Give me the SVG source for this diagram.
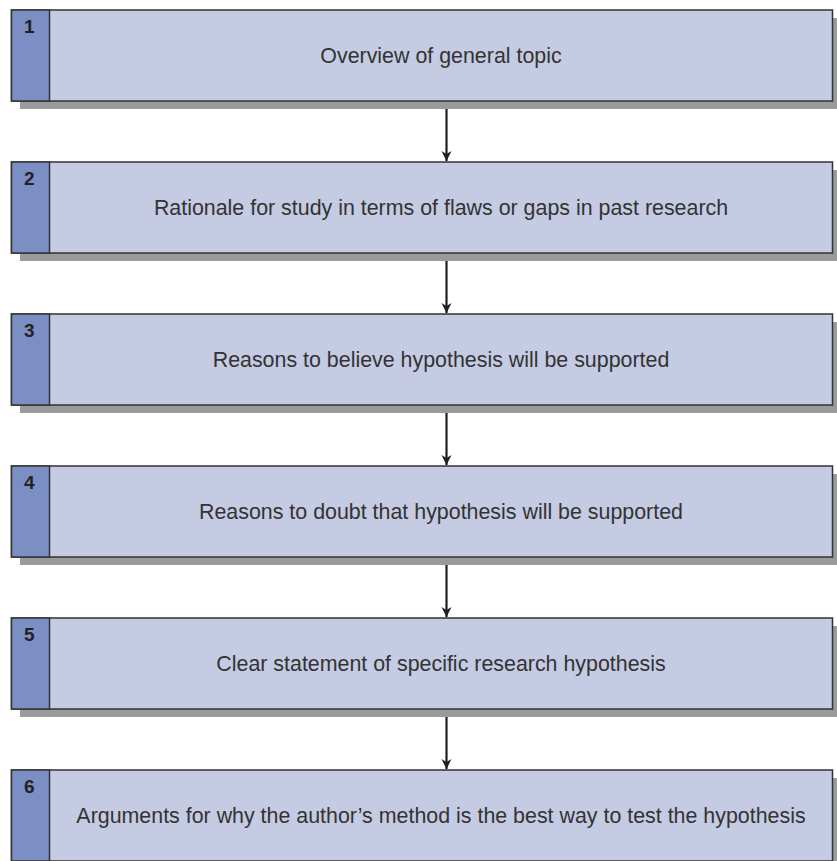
<svg xmlns="http://www.w3.org/2000/svg" width="837" height="861" viewBox="0 0 837 861">
<defs>
<style>
.shadow{fill:#999a9c}
.box{fill:#c5cbe3;stroke:#333333;stroke-width:1.5}
.tab{fill:#7b8fc4;stroke:#333333;stroke-width:1.5}
.num{font-family:"Liberation Sans",Arial,sans-serif;font-weight:bold;font-size:19px;fill:#222}
.lbl{font-family:"Liberation Sans",Arial,sans-serif;font-size:21.4px;fill:#333;text-anchor:middle}
.conn{stroke:#231f20;stroke-width:2.2;fill:none}
</style>
<marker id="ah" viewBox="0 0 10 16" refX="10" refY="8" markerWidth="14" markerHeight="16" markerUnits="userSpaceOnUse" orient="auto">
<path d="M0,3 L10,8 L0,13 L3,8 Z" fill="#231f20"/>
</marker>
</defs>
<rect width="837" height="861" fill="#ffffff"/>
<g id="connectors">
<line class="conn" x1="446.5" y1="101" x2="446.5" y2="161" marker-end="url(#ah)"/>
<line class="conn" x1="446.5" y1="253" x2="446.5" y2="313" marker-end="url(#ah)"/>
<line class="conn" x1="446.5" y1="405" x2="446.5" y2="465" marker-end="url(#ah)"/>
<line class="conn" x1="446.5" y1="557" x2="446.5" y2="617" marker-end="url(#ah)"/>
<line class="conn" x1="446.5" y1="709" x2="446.5" y2="769" marker-end="url(#ah)"/>
</g>
<g id="node1">
<rect class="shadow" x="20" y="18" width="817" height="91"/>
<rect class="box" x="11.5" y="10" width="821" height="91"/>
<rect class="tab" x="11.5" y="10" width="38" height="91"/>
<text class="num" x="24" y="33">1</text>
<text class="lbl" x="441" y="63">Overview of general topic</text>
</g>
<g id="node2">
<rect class="shadow" x="20" y="170" width="817" height="91"/>
<rect class="box" x="11.5" y="162" width="821" height="91"/>
<rect class="tab" x="11.5" y="162" width="38" height="91"/>
<text class="num" x="24" y="185">2</text>
<text class="lbl" x="441" y="215">Rationale for study in terms of flaws or gaps in past research</text>
</g>
<g id="node3">
<rect class="shadow" x="20" y="322" width="817" height="91"/>
<rect class="box" x="11.5" y="314" width="821" height="91"/>
<rect class="tab" x="11.5" y="314" width="38" height="91"/>
<text class="num" x="24" y="337">3</text>
<text class="lbl" x="441" y="367">Reasons to believe hypothesis will be supported</text>
</g>
<g id="node4">
<rect class="shadow" x="20" y="474" width="817" height="91"/>
<rect class="box" x="11.5" y="466" width="821" height="91"/>
<rect class="tab" x="11.5" y="466" width="38" height="91"/>
<text class="num" x="24" y="489">4</text>
<text class="lbl" x="441" y="519">Reasons to doubt that hypothesis will be supported</text>
</g>
<g id="node5">
<rect class="shadow" x="20" y="626" width="817" height="91"/>
<rect class="box" x="11.5" y="618" width="821" height="91"/>
<rect class="tab" x="11.5" y="618" width="38" height="91"/>
<text class="num" x="24" y="641">5</text>
<text class="lbl" x="441" y="671">Clear statement of specific research hypothesis</text>
</g>
<g id="node6">
<rect class="shadow" x="20" y="778" width="817" height="91"/>
<rect class="box" x="11.5" y="770" width="821" height="91"/>
<rect class="tab" x="11.5" y="770" width="38" height="91"/>
<text class="num" x="24" y="793">6</text>
<text class="lbl" x="441" y="823">Arguments for why the author’s method is the best way to test the hypothesis</text>
</g>
</svg>
